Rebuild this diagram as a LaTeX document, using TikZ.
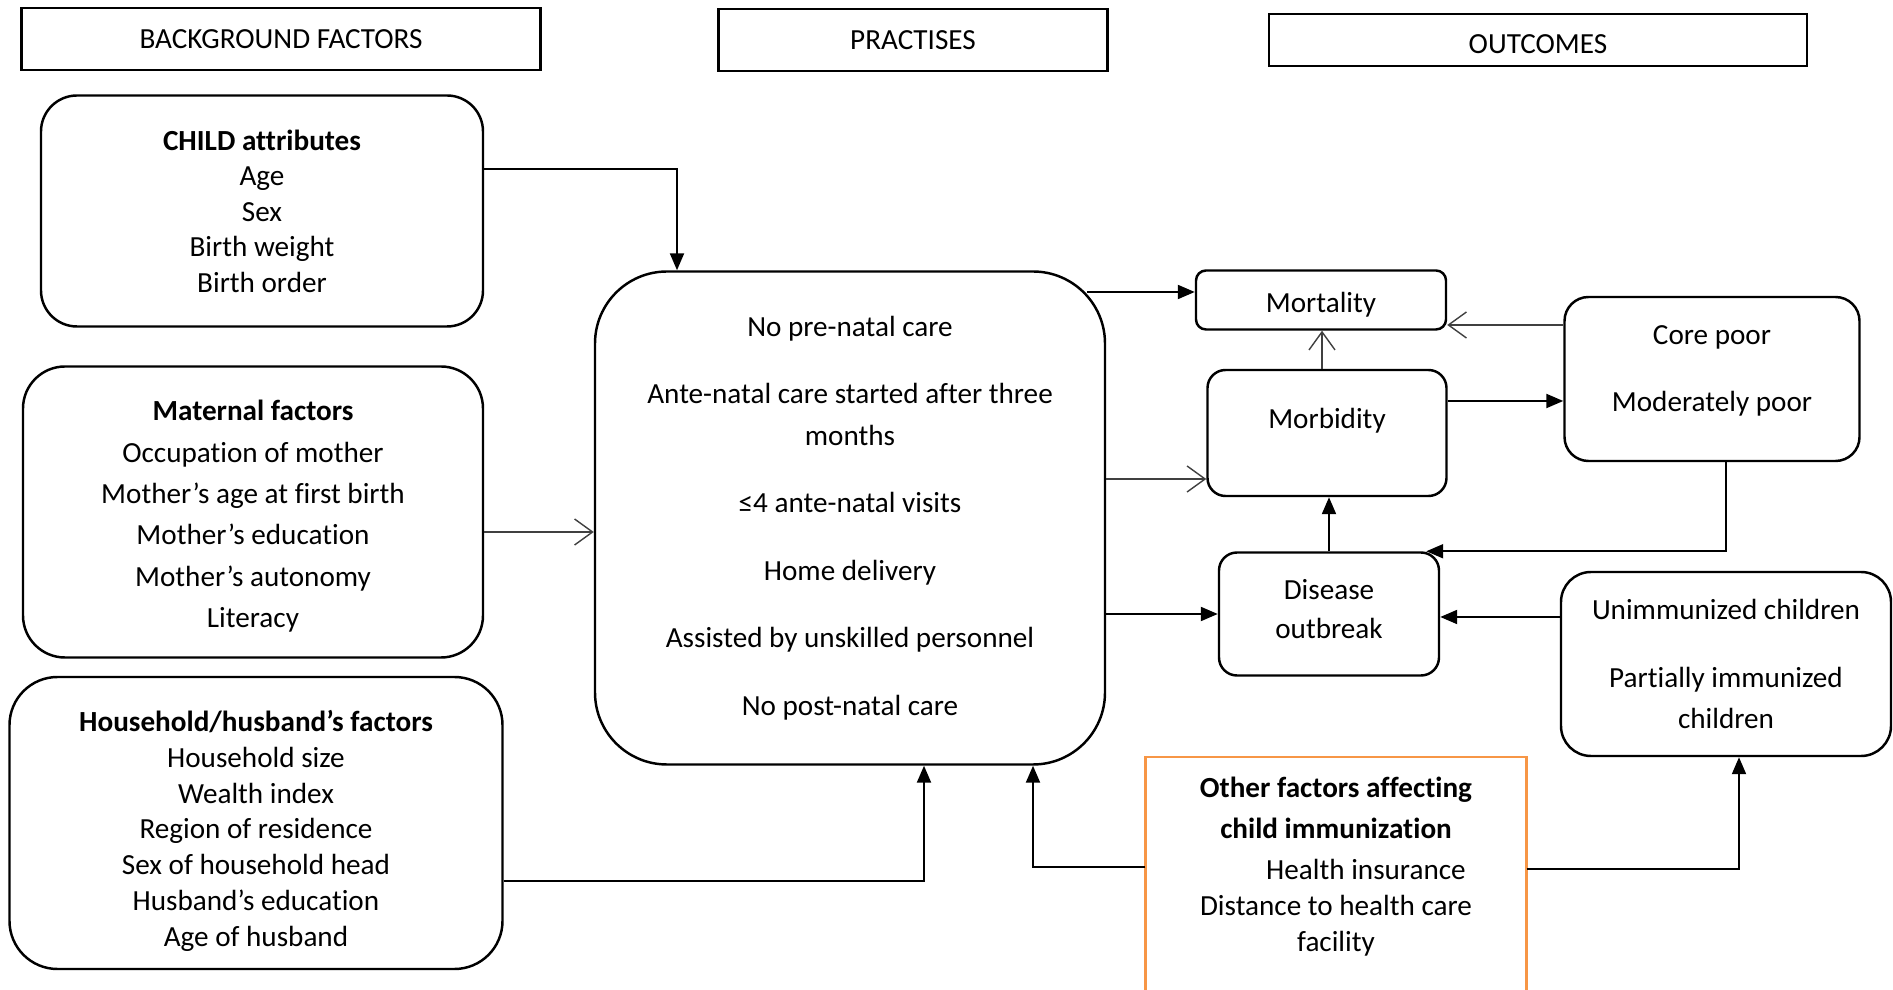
\documentclass[tikz,border=0pt]{standalone}
\usepackage{fontspec}
\setmainfont{Carlito}[Ligatures=NoCommon]
\usetikzlibrary{arrows.meta}
\definecolor{otherorange}{HTML}{F79646}

\begin{document}
\begin{tikzpicture}[font=\fontsize{8.3}{10.1}\selectfont,
  head/.style={draw,line width=0.7pt,inner sep=0pt},
  box/.style={draw,line width=0.7pt,inner sep=0pt},
  rbox/.style={box,align=center},
  arr/.style={line width=0.6pt,-{Triangle[length=0.17cm,width=0.14cm]}},
  thin/.style={black!75,line width=0.4pt,-{Straight Barb[length=0.18cm,width=0.26cm]}}]
\path[use as bounding box] (0,0) rectangle (18.93,9.90);

% headings
\node[head,minimum width=5.19cm,minimum height=0.62cm] (bg) at (2.81,9.51) {BACKGROUND FACTORS};
\node[head,minimum width=3.89cm,minimum height=0.62cm] (pr) at (9.13,9.50) {PRACTISES};
\node[head,minimum width=5.38cm,minimum height=0.52cm,text height=0.28cm,text depth=0cm] (oc) at (15.38,9.50) {OUTCOMES};

% background factors
\node[rbox,rounded corners=0.36cm,minimum width=4.42cm,minimum height=2.31cm] (child) at (2.62,7.79)
  {\textbf{CHILD attributes}\\Age\\Sex\\Birth weight\\Birth order};
\node[rbox,rounded corners=0.42cm,minimum width=4.60cm,minimum height=2.91cm,
  font=\fontsize{8.3}{11.75}\selectfont] (mat) at (2.53,4.78)
  {\rule{0pt}{8.3pt}\textbf{Maternal factors}\\Occupation of mother\\Mother’s age at first birth\\Mother’s education\\Mother’s autonomy\\Literacy};
\node[rbox,rounded corners=0.48cm,minimum width=4.93cm,minimum height=2.92cm,
  font=\fontsize{8.3}{10.2}\selectfont] (house) at (2.56,1.67)
  {\rule{0pt}{10.5pt}\textbf{Household/husband’s factors}\\Household size\\Wealth index\\Region of residence\\Sex of household head\\Husband’s education\\Age of husband};

% practises
\node[rbox,rounded corners=0.72cm,minimum width=5.10cm,minimum height=4.93cm,
  font=\fontsize{8.3}{11.7}\selectfont] (prac) at (8.50,4.72)
  {No pre-natal care\\[7.5pt]Ante-natal care started after three\\months\\[7.5pt]≤4 ante-natal visits\\[7.5pt]Home delivery\\[7.5pt]Assisted by unskilled personnel\\[7.5pt]No post-natal care};

% outcomes
\node[box,rounded corners=0.1cm,minimum width=2.50cm,minimum height=0.59cm,
  text height=0.3cm,text depth=0.04cm] (mort) at (13.21,6.90) {Mortality};
\node[box,rounded corners=0.18cm,minimum width=2.39cm,minimum height=1.26cm,
  text height=0.2cm,text depth=0.28cm] (morb) at (13.27,5.57) {Morbidity};
\node[rbox,rounded corners=0.24cm,minimum width=2.95cm,minimum height=1.64cm] (poor) at (17.12,6.11)
  {Core poor\\[9.1pt]Moderately poor\rule[-6pt]{0pt}{0pt}};
\node[rbox,rounded corners=0.18cm,minimum width=2.20cm,minimum height=1.23cm,
  font=\fontsize{8.3}{11.3}\selectfont] (dis) at (13.29,3.76) {Disease\\outbreak\rule[-2.8pt]{0pt}{0pt}};
\node[rbox,rounded corners=0.3cm,minimum width=3.30cm,minimum height=1.84cm,
  font=\fontsize{8.3}{11.7}\selectfont] (unim) at (17.26,3.26)
  {Unimmunized children\\[7.5pt]Partially immunized\\children};

% other factors, box runs off the page
\node[align=center,minimum width=3.80cm,inner ysep=0.19cm,anchor=north,
  font=\fontsize{8.3}{10.3}\selectfont] (other) at (13.36,2.33)
  {\textbf{Other factors affecting}\\[1.4pt]\textbf{child immunization}\\[1.4pt]\hspace*{0.6cm}Health insurance\\Distance to health care\\facility};
\draw[otherorange,line width=0.85pt] (other.west |- 0,-0.1) -- (other.north west) -- (other.north east) -- (other.east |- 0,-0.1);

% bends
\coordinate (c1) at (6.77,8.21);
\coordinate (m1) at (0,4.58);
\coordinate (h1) at (9.24,1.09);
\coordinate (o1) at (10.33,1.23);
\coordinate (o2) at (17.39,1.21);
\coordinate (p1) at (10.87,6.98);
\coordinate (d1) at (17.26,4.37);

\draw[arr] (child.east |- c1) -| (prac.north -| c1);
\draw[thin] (mat.east |- m1) -- (prac.west |- m1);
\draw[arr] (house.east |- h1) -| (prac.south -| h1);
\draw[arr] (other.west |- o1) -| (prac.south -| o1);
\draw[arr] (other.east |- o2) -| (unim.south -| o2);
\draw[arr] (p1) -- (mort.west |- p1);
\draw[thin] (prac.east |- 0,5.11) -- (morb.west |- 0,5.11);
\draw[arr] (prac.east |- dis.west) -- (dis.west);
\draw[thin] (morb.north -| 13.22,0) -- (mort.south -| 13.22,0);
\draw[arr] (morb.east |- 0,5.89) -- (poor.west |- 0,5.89);
\draw[thin] (poor.west |- 0,6.65) -- (mort.east |- 0,6.65);
\draw[arr] (poor.south -| d1) |- ([xshift=-0.14cm]dis.north east);
\draw[arr] (dis.north) -- (dis.north |- morb.south);
\draw[arr] (unim.west |- 0,3.73) -- (dis.east |- 0,3.73);
\end{tikzpicture}
\end{document}
